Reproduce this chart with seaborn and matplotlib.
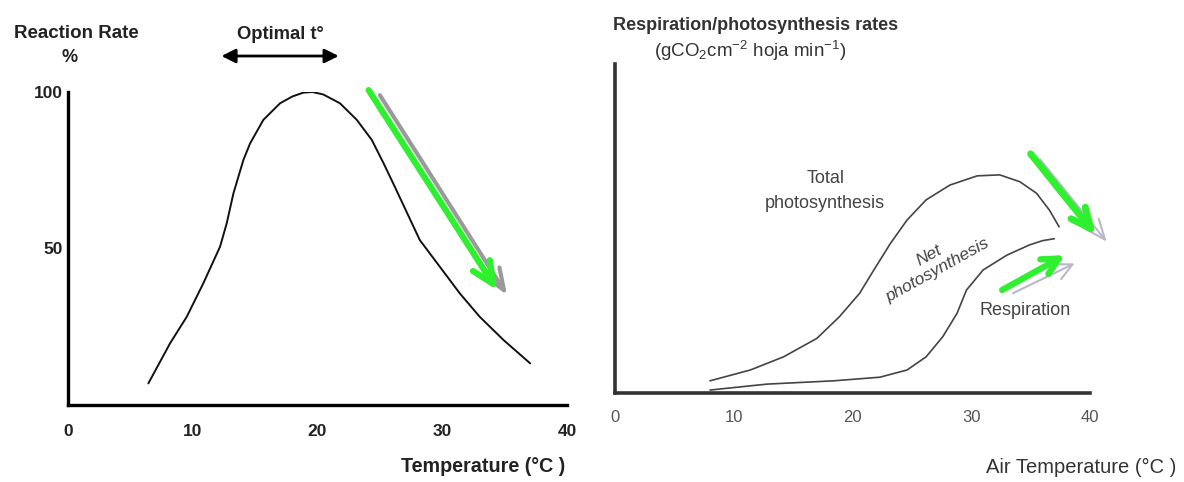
import matplotlib
matplotlib.use("Agg")
import matplotlib.pyplot as plt
import seaborn as sns
import pandas as pd

# ---------------- data ----------------
# Left panel: enzyme reaction rate (%) vs temperature (°C)
rate_temp = [6.44, 8.18, 9.52, 10.85, 12.19, 12.72, 13.26, 14.06, 14.6, 15.66, 17.0,
             18.0, 18.87, 19.6, 20.47, 21.8, 23.15, 24.35, 25.3, 26.2, 27.2, 28.2,
             29.8, 31.4, 33.0, 34.9, 37.05]
rate_pct = [6.9, 19.7, 28.2, 38.9, 50.6, 58.0, 67.6, 78.3, 83.6, 91.1, 96.4,
            98.6, 99.8, 100.0, 99.2, 96.4, 91.1, 84.7, 77.2, 69.7, 61.2, 52.7,
            44.2, 35.7, 28.2, 20.8, 13.3]
left_xticks = [0, 10, 20, 30, 40]
left_yticks = [50, 100]

# Right panel: total photosynthesis and respiration vs air temperature (°C)
total_temp = [8.0, 11.4, 14.2, 17.0, 18.9, 20.6, 21.8, 23.2, 24.6, 26.2, 28.2,
              30.5, 32.4, 34.1, 35.5, 36.6, 37.4]
total_rate = [3.7, 7.0, 11.0, 16.6, 23.2, 30.3, 37.4, 45.5, 52.6, 58.7, 63.2,
              66.0, 66.3, 64.2, 60.7, 55.5, 50.5]
resp_temp = [8.0, 12.8, 18.4, 22.3, 24.6, 26.2, 27.6, 28.8, 29.6, 31.0, 33.0,
             34.9, 36.0, 37.0]
resp_rate = [0.9, 2.7, 3.7, 4.8, 7.0, 11.0, 17.1, 24.2, 31.3, 37.4, 41.9,
             45.0, 46.3, 46.9]
right_xticks = [0, 10, 20, 30, 40]

# ---------------- style ----------------
sns.set_theme(style="white")
SANS = ["Liberation Sans", "DejaVu Sans"]
plt.rcParams["font.family"] = SANS
plt.rcParams["mathtext.fontset"] = "custom"
plt.rcParams["mathtext.rm"] = "Liberation Sans"
plt.rcParams["mathtext.it"] = "Liberation Sans"
plt.rcParams["mathtext.bf"] = "Liberation Sans:bold"
plt.rcParams["mathtext.default"] = "regular"
plt.rcParams["lines.solid_capstyle"] = "round"

fig = plt.figure(figsize=(11.84, 4.82), dpi=100)
W, H = 1184, 482

def axes_px(x0, x1, ytop, ybot):
    return fig.add_axes([x0 / W, 1 - ybot / H, (x1 - x0) / W, (ybot - ytop) / H])

GREEN = "#2ef02e"
GRAY = "#9a9a9a"
TXT = "#222222"

# ---------------- left panel ----------------
axL = axes_px(68, 567, 92, 405)
dfL = pd.DataFrame({"t": rate_temp, "r": rate_pct})
sns.lineplot(data=dfL, x="t", y="r", ax=axL, color="#111111", lw=1.4, sort=False)
axL.set_xlim(0, 40)
axL.set_ylim(0, 100)
for s in ["top", "right"]:
    axL.spines[s].set_visible(False)
for s in ["left", "bottom"]:
    axL.spines[s].set_linewidth(2.4)
    axL.spines[s].set_color("black")
axL.set_xticks(left_xticks)
axL.set_yticks(left_yticks)
axL.set_xticklabels([str(v) for v in left_xticks], fontweight="bold",
                    fontsize=12.5, color=TXT)
axL.set_yticklabels([str(v) for v in left_yticks], fontweight="bold",
                    fontsize=12.5, color=TXT)
axL.tick_params(axis="x", direction="in", length=7, width=2.2, pad=14, color="black")
axL.tick_params(axis="y", direction="in", length=5, width=2.2, pad=4, color="black")
axL.set_xlabel("")
axL.set_ylabel("")

# gray shadow arrow then green arrow
axL.annotate("", xy=(35.2, 35.1), xytext=(25.0, 99.0), annotation_clip=False,
             arrowprops=dict(arrowstyle="->,head_length=1.3,head_width=0.5",
                             color=GRAY, lw=3, shrinkA=0, shrinkB=0))
axL.annotate("", xy=(34.4, 36.7), xytext=(24.1, 100.6), annotation_clip=False,
             arrowprops=dict(arrowstyle="->,head_length=1.3,head_width=0.6",
                             color=GREEN, lw=4.5, shrinkA=0, shrinkB=0))

# optimal temperature double arrow
axL.annotate("", xy=(21.7, 111.5), xytext=(12.3, 111.5), annotation_clip=False,
             arrowprops=dict(arrowstyle="<|-|>,head_length=0.7,head_width=0.35",
                             color="black", lw=2, shrinkA=0, shrinkB=0))
axL.text(17.0, 118.5, "Optimal t°", ha="center", va="center",
         fontweight="bold", fontsize=13.3, color=TXT, clip_on=False)

fig.text(76 / W, 1 - 33 / H, "Reaction Rate", ha="center", va="center",
         fontweight="bold", fontsize=13.5, color=TXT)
fig.text(70 / W, 1 - 57 / H, "%", ha="center", va="center",
         fontweight="bold", fontsize=13, color=TXT)
fig.text(483 / W, 1 - 467 / H, "Temperature (°C )", ha="center", va="center",
         fontweight="bold", fontsize=14.2, color=TXT)

# ---------------- right panel ----------------
axR = axes_px(615, 1090, 64, 393)
dfT = pd.DataFrame({"t": total_temp, "r": total_rate})
dfR = pd.DataFrame({"t": resp_temp, "r": resp_rate})
sns.lineplot(data=dfT, x="t", y="r", ax=axR, color="#444444", lw=1.2, sort=False)
sns.lineplot(data=dfR, x="t", y="r", ax=axR, color="#444444", lw=1.2, sort=False)
axR.set_xlim(0, 40)
axR.set_ylim(0, 100)
for s in ["top", "right"]:
    axR.spines[s].set_visible(False)
for s in ["left", "bottom"]:
    axR.spines[s].set_linewidth(2.6)
    axR.spines[s].set_color("#333333")
axR.set_xticks(right_xticks)
axR.set_yticks([])
axR.set_xticklabels([str(v) for v in right_xticks], fontsize=12, color="#555555")
axR.tick_params(axis="x", direction="inout", length=4, width=2.5, pad=10, color="#222222")
axR.set_xlabel("")
axR.set_ylabel("")

axR.text(17.7, 61.4, "Total\nphotosynthesis", ha="center", va="center",
         fontsize=13, color="#444444", linespacing=1.65)
axR.text(26.8, 39.5, "Net\nphotosynthesis", ha="center", va="center", rotation=29,
         fontsize=12.5, color="#444444", style="italic", linespacing=1.2)
axR.text(34.5, 25.2, "Respiration", ha="center", va="center",
         fontsize=13, color="#444444")

# arrows on right panel (thin gray shadows, then green)
axR.annotate("", xy=(41.4, 46.0), xytext=(35.8, 71.0), annotation_clip=False,
             arrowprops=dict(arrowstyle="->,head_length=1.2,head_width=0.5",
                             color="#b8b8c8", lw=1.5, shrinkA=0, shrinkB=0))
axR.annotate("", xy=(40.5, 48.0), xytext=(35.0, 72.7), annotation_clip=False,
             arrowprops=dict(arrowstyle="->,head_length=1.2,head_width=0.55",
                             color=GREEN, lw=5, shrinkA=0, shrinkB=0))
axR.annotate("", xy=(38.7, 39.4), xytext=(33.5, 30.3), annotation_clip=False,
             arrowprops=dict(arrowstyle="->,head_length=1.0,head_width=0.5",
                             color="#b8b8c8", lw=1.5, shrinkA=0, shrinkB=0))
axR.annotate("", xy=(37.9, 41.9), xytext=(32.6, 31.3), annotation_clip=False,
             arrowprops=dict(arrowstyle="->,head_length=1.0,head_width=0.5",
                             color=GREEN, lw=4.5, shrinkA=0, shrinkB=0))

fig.text(756 / W, 1 - 25 / H, "Respiration/photosynthesis rates", ha="center",
         va="center", fontsize=13, fontweight="bold", color="#333333")
fig.text(750 / W, 1 - 51 / H, r"(gCO$_2$cm$^{-2}$ hoja min$^{-1}$)", ha="center",
         va="center", fontsize=13.5, color="#333333")
fig.text(1081 / W, 1 - 467 / H, "Air Temperature (°C )", ha="center", va="center",
         fontsize=14.5, color="#333333")

fig.savefig("out.png", dpi=100, facecolor="white")
